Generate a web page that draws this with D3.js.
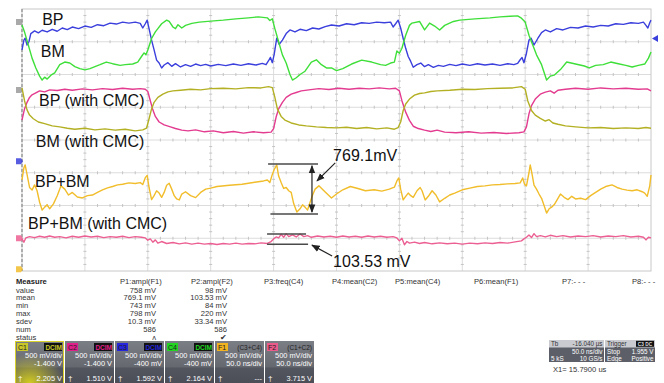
<!DOCTYPE html>
<html>
<head>
<meta charset="utf-8">
<script src="https://cdn.jsdelivr.net/npm/d3@7"></script>
<style>
  body { margin: 0; background: #fff; }
  svg { display: block; font-family: "Liberation Sans", Arial, sans-serif; }
</style>
</head>
<body>
<svg id="scope"></svg>
<script>
// time in ns (50 ns/div, 10 div), level in screen divisions (-4 .. 4)
var bpTrace = [[0,2.75],[1.5,3.05],[2.5,3.11],[4,2.90],[5.5,3.00],[7,3.25],[10,3.33],[13,3.27],[16,3.35],[20,3.30],[24,3.38],[28,3.32],[32,3.42],[36,3.37],[40,3.45],[45,3.40],[50,3.48],[55,3.44],[60,3.52],[65,3.49],[70,3.57],[75,3.54],[80,3.60],[85,3.57],[90,3.60],[94,3.56],[96,3.42],[98,3.55],[99.5,3.66],[101,3.40],[103,3.05],[105,2.75],[107,2.44],[109,2.35],[111,2.20],[113,2.29],[116,2.36],[119,2.25],[122,2.33],[126,2.23],[130,2.30],[134,2.25],[138,2.32],[142,2.27],[146,2.31],[150,2.26],[156,2.31],[162,2.27],[168,2.32],[174,2.28],[180,2.33],[186,2.29],[191,2.34],[194,2.30],[196,2.42],[197.5,2.52],[199,2.36],[200.5,2.62],[202.5,3.11],[204.5,2.92],[207,3.05],[210,3.25],[213,3.36],[217,3.30],[221,3.38],[226,3.34],[231,3.42],[236,3.39],[241,3.46],[246,3.51],[252,3.48],[258,3.55],[264,3.52],[270,3.58],[276,3.56],[282,3.60],[288,3.58],[293,3.60],[295,3.45],[297,3.55],[299,3.66],[301,3.42],[303,3.10],[305,2.80],[307,2.55],[309,2.40],[311,2.22],[314,2.30],[317,2.35],[320,2.24],[323,2.30],[327,2.22],[331,2.28],[335,2.25],[340,2.31],[345,2.27],[350,2.32],[356,2.28],[362,2.33],[368,2.29],[374,2.32],[380,2.28],[386,2.33],[391,2.30],[394,2.34],[396,2.45],[397.5,2.52],[399,2.36],[401,2.65],[403,3.05],[404.7,3.11],[407,2.90],[410,3.10],[413,3.28],[416,3.36],[420,3.30],[425,3.40],[430,3.36],[436,3.44],[442,3.42],[448,3.48],[454,3.45],[460,3.50],[466,3.48],[472,3.55],[478,3.53],[484,3.58],[490,3.56],[494,3.60],[496,3.50],[497.5,3.42],[499,3.58],[500,3.66]];

var bmTrace = [[0,3.51],[2,3.30],[5,2.90],[8,2.50],[11,2.20],[14,1.95],[16,1.83],[18,1.92],[20,1.86],[23,1.98],[26,2.05],[30,2.30],[34,2.38],[38,2.35],[42,2.24],[46,2.18],[50,2.14],[54,2.18],[58,2.24],[62,2.30],[67,2.38],[72,2.33],[78,2.28],[82,2.30],[88,2.32],[92,2.38],[95,2.55],[97,2.66],[98.5,2.60],[100,2.75],[103,3.10],[106,3.30],[108,3.40],[111,3.55],[115,3.66],[117,3.62],[120,3.45],[122,3.40],[124,3.52],[127,3.42],[130,3.50],[135,3.56],[141,3.60],[150,3.63],[160,3.66],[170,3.70],[180,3.73],[188,3.76],[195,3.73],[197,3.65],[199,3.70],[201,3.40],[204,3.00],[207,2.60],[210,2.35],[213,2.00],[215,1.83],[218,1.90],[221,2.00],[225,2.10],[230,2.38],[234,2.45],[238,2.30],[242,2.20],[246,2.20],[250,2.12],[255,2.18],[262,2.32],[270,2.44],[278,2.38],[285,2.30],[289,2.28],[293,2.35],[296,2.38],[298,2.72],[300,2.65],[302,2.80],[305,3.20],[308,3.50],[310,3.57],[316,3.62],[320,3.36],[324,3.57],[328,3.48],[332,3.36],[336,3.50],[343,3.62],[348,3.66],[360,3.70],[372,3.73],[380,3.76],[388,3.78],[394,3.79],[397,3.72],[400,3.60],[403,3.20],[406,2.90],[409,2.60],[413,2.30],[417,1.83],[420,1.95],[423,1.98],[428,2.15],[433,2.38],[440,2.32],[447,2.26],[451,2.20],[456,2.28],[462,2.30],[468,2.38],[474,2.33],[480,2.28],[485,2.23],[490,2.28],[495,2.32],[498,2.50],[500,2.69]];

var bpCmcTrace = [[0,0.61],[2,0.95],[4,1.15],[6,1.30],[8,1.38],[11,1.44],[14,1.50],[18,1.47],[22,1.53],[28,1.51],[34,1.55],[40,1.52],[48,1.56],[56,1.53],[64,1.57],[72,1.54],[80,1.58],[88,1.55],[94,1.57],[98,1.55],[100,1.48],[102,1.20],[104,0.92],[106,0.72],[109,0.55],[113,0.46],[118,0.40],[122,0.35],[127,0.30],[132,0.28],[138,0.31],[145,0.25],[152,0.28],[160,0.22],[168,0.26],[176,0.21],[184,0.25],[192,0.22],[198,0.24],[200,0.35],[202,0.70],[204,0.95],[207,1.15],[210,1.30],[214,1.40],[218,1.45],[222,1.50],[228,1.53],[236,1.57],[244,1.54],[252,1.58],[260,1.55],[268,1.58],[276,1.56],[284,1.59],[292,1.56],[297,1.58],[300,1.50],[302,1.20],[305,0.85],[308,0.60],[311,0.42],[315,0.35],[320,0.30],[325,0.26],[330,0.30],[336,0.24],[345,0.22],[355,0.25],[365,0.21],[375,0.23],[385,0.20],[395,0.22],[399,0.25],[401,0.40],[403,0.80],[405,1.05],[408,1.25],[412,1.40],[416,1.46],[420,1.50],[423,1.43],[426,1.52],[432,1.55],[440,1.58],[450,1.55],[460,1.59],[470,1.56],[480,1.58],[490,1.55],[497,1.56],[500,1.50]];

var bmCmcTrace = [[0,1.59],[2,1.20],[4,0.92],[6,0.76],[9,0.65],[13,0.55],[18,0.50],[24,0.43],[30,0.40],[36,0.36],[42,0.33],[50,0.36],[58,0.31],[66,0.34],[74,0.30],[82,0.33],[90,0.28],[96,0.31],[99,0.36],[101,0.65],[103,0.95],[105,1.15],[108,1.30],[112,1.40],[116,1.47],[120,1.50],[126,1.52],[134,1.55],[142,1.53],[150,1.57],[160,1.58],[170,1.56],[180,1.60],[190,1.59],[196,1.63],[199,1.60],[201,1.30],[203,0.95],[206,0.72],[209,0.61],[214,0.52],[220,0.46],[226,0.43],[234,0.40],[242,0.38],[250,0.37],[258,0.39],[266,0.35],[274,0.38],[282,0.34],[290,0.37],[296,0.33],[299,0.38],[301,0.55],[303,0.90],[305,1.10],[308,1.25],[312,1.37],[316,1.42],[320,1.44],[325,1.48],[330,1.50],[340,1.52],[350,1.55],[360,1.54],[370,1.57],[380,1.58],[390,1.59],[397,1.63],[400,1.55],[402,1.20],[405,0.90],[408,0.76],[412,0.66],[416,0.58],[419,0.62],[422,0.52],[426,0.48],[432,0.43],[440,0.40],[450,0.37],[460,0.38],[470,0.35],[480,0.37],[490,0.35],[496,0.38],[500,0.36]];

var sumTrace = [[0,-1.22],[1.5,-0.85],[2.5,-0.76],[4,-1.05],[6,-1.45],[8,-1.53],[10,-1.37],[12,-1.55],[14,-1.90],[16,-2.14],[18,-2.05],[20,-1.98],[22,-2.10],[25,-1.95],[28,-1.70],[31,-1.40],[34,-1.50],[37,-1.68],[40,-1.60],[44,-1.74],[48,-1.77],[52,-1.70],[56,-1.68],[60,-1.60],[64,-1.52],[68,-1.46],[72,-1.42],[76,-1.37],[80,-1.35],[85,-1.31],[90,-1.33],[94,-1.30],[96,-1.36],[98,-1.15],[99.5,-1.08],[101,-1.45],[103,-1.82],[105,-1.70],[107,-1.55],[109,-1.62],[111,-1.75],[113,-1.60],[115,-1.38],[117,-1.32],[119,-1.50],[121,-1.70],[123,-1.80],[125,-1.83],[127,-1.65],[130,-1.58],[134,-1.70],[138,-1.76],[142,-1.60],[146,-1.50],[150,-1.47],[155,-1.42],[165,-1.38],[175,-1.35],[185,-1.29],[192,-1.25],[195,-1.22],[197,-1.30],[199,-1.05],[200.5,-0.90],[202.5,-0.76],[204,-1.10],[206,-1.30],[208,-1.48],[210,-1.45],[212,-1.55],[214,-1.60],[216,-1.95],[218.5,-2.20],[221,-2.10],[223,-1.98],[225,-2.05],[227,-2.14],[229,-1.90],[231,-1.68],[233,-1.50],[236,-1.40],[240,-1.55],[246,-1.77],[250,-1.65],[255,-1.52],[261,-1.42],[267,-1.48],[273,-1.55],[280,-1.52],[286,-1.56],[292,-1.50],[296,-1.44],[298,-1.25],[299.5,-1.16],[301,-1.50],[303,-1.83],[305,-1.72],[307,-1.62],[309,-1.70],[311,-1.75],[314,-1.55],[316.5,-1.45],[318,-1.55],[320.5,-1.83],[323,-1.72],[326,-1.55],[329,-1.68],[332,-1.89],[336,-1.78],[340,-1.68],[344,-1.62],[350,-1.52],[356,-1.47],[362,-1.42],[368,-1.40],[374,-1.37],[380,-1.36],[386,-1.34],[392,-1.33],[396,-1.31],[398,-1.16],[399.5,-1.35],[401,-1.40],[403,-1.00],[404,-0.76],[405.5,-1.05],[407,-1.38],[409,-1.50],[411,-1.65],[413,-1.78],[415,-2.00],[417,-2.23],[419,-2.10],[421,-2.05],[423,-1.98],[425,-1.85],[428,-1.65],[431,-1.75],[434,-1.82],[437,-1.72],[440,-1.80],[444,-1.78],[448,-1.82],[452,-1.70],[456,-1.60],[460,-1.50],[464,-1.42],[469,-1.37],[473,-1.45],[477,-1.50],[481,-1.53],[485,-1.55],[489,-1.52],[493,-1.58],[495,-1.62],[497,-1.72],[499,-1.40],[500,-1.07]];

var sumCmcTrace = [[0,-3.02],[1.5,-3.12],[3,-2.99],[6,-2.95],[10,-2.98],[14,-2.94],[18,-2.97],[22,-2.93],[26,-2.97],[30,-2.95],[35,-2.99],[40,-2.94],[45,-2.97],[50,-2.93],[55,-2.96],[60,-2.94],[65,-2.98],[70,-2.95],[75,-2.97],[80,-2.94],[85,-2.98],[90,-2.95],[95,-2.97],[98,-2.99],[100,-3.06],[102,-3.02],[104,-3.12],[106,-3.05],[108,-3.15],[111,-3.10],[115,-3.16],[120,-3.13],[125,-3.17],[130,-3.14],[135,-3.18],[140,-3.15],[145,-3.18],[150,-3.16],[155,-3.19],[160,-3.16],[165,-3.18],[170,-3.15],[175,-3.18],[180,-3.16],[185,-3.17],[190,-3.14],[195,-3.16],[198,-3.10],[200,-3.02],[202,-2.96],[204,-2.99],[206,-2.88],[208,-2.97],[210,-2.86],[212,-2.95],[215,-2.90],[218,-2.96],[221,-2.87],[224,-2.95],[227,-2.92],[230,-2.97],[235,-2.93],[240,-2.96],[245,-2.94],[250,-2.97],[255,-2.93],[260,-2.96],[265,-2.94],[270,-2.97],[275,-2.93],[280,-2.96],[285,-2.94],[290,-2.97],[295,-2.95],[298,-2.99],[300,-3.08],[302,-3.00],[304,-3.20],[306,-3.10],[308,-3.15],[312,-3.12],[316,-3.16],[320,-3.13],[326,-3.17],[332,-3.14],[338,-3.17],[344,-3.15],[350,-3.18],[356,-3.15],[362,-3.17],[368,-3.14],[374,-3.16],[380,-3.13],[386,-3.15],[392,-3.11],[397,-3.08],[399,-3.02],[401,-2.97],[403,-2.90],[405,-2.98],[407,-2.86],[409,-2.95],[412,-2.92],[416,-2.96],[420,-2.91],[425,-2.95],[430,-2.92],[436,-2.96],[442,-2.93],[448,-2.95],[454,-2.92],[460,-2.96],[466,-2.93],[472,-2.95],[478,-2.92],[484,-2.96],[490,-2.94],[494,-2.97],[496,-3.05],[498,-2.97],[500,-2.99]];

var traceNames = ['BP', 'BM', 'BP (with CMC)', 'BM (with CMC)', 'BP+BM', 'BP+BM (with CMC)'];
var traceColors = ['#3b3fdc', '#3fdf3a', '#e33b8f', '#b3b024', '#f1bd2b', '#ec5f92'];
// label anchor [ns, div]
var labelPos = [[16, 3.51], [15, 2.53], [13.5, 1.04], [11, -0.20], [10.3, -1.44], [4.8, -2.72]];

// amplitude cursors: [t0, t1, level]
var ampLines = [[195.6, 235.3, -0.73], [197.5, 235.3, -2.26], [194.8, 225.8, -2.87], [194.8, 227.4, -3.18]];
var ampArrow = [230.5, -0.79, -2.20];
var calloutText = ['769.1mV', '103.53 mV'];
var calloutPos = [[247.3, -0.64], [247.3, -3.87]];
var calloutArrows = [[249, -0.70, 234.5, -1.25], [246.5, -3.54, 230.5, -3.21]];

var measureRows = ['value', 'mean', 'min', 'max', 'sdev', 'num', 'status'];
var paramHeaders = ['P1:ampl(F1)', 'P2:ampl(F2)', 'P3:freq(C4)', 'P4:mean(C2)', 'P5:mean(C4)', 'P6:mean(F1)', 'P7:- - -', 'P8:- - -'];
var p1Values = ['758 mV', '769.1 mV', '743 mV', '798 mV', '10.3 mV', '586', '\u028c'];
var p2Values = ['98 mV', '103.53 mV', '84 mV', '220 mV', '33.34 mV', '586', '\u2714'];

var chanNames = ['C1', 'C2', 'C3', 'C4', 'F1', 'F2'];
var chanTags = ['DCIM', 'DCIM', 'DCIM', 'DCIM', '(C3+C4)', '(C1+C2)'];
var chanColors = ['#c9c62a', '#e0208a', '#2626dc', '#22d622', '#f2b321', '#ea5a8a'];
var chanScale = ['500 mV/div', '500 mV/div', '500 mV/div', '500 mV/div', '500 mV/div', '500 mV/div'];
var chanOffset = ['-1.400 V', '-1.400 V', '-400 mV', '-400 mV', '50.0 ns/div', '50.0 ns/div'];
var chanReadout = ['2.205 V', '1.510 V', '1.592 V', '2.164 V', '---', '3.715 V'];

var tbRows = [['Tb', '-16.040 \u00b5s'], ['', '50.0 ns/div'], ['5 kS', '10 GS/s']];
var trigRows = [['Trigger', ''], ['Stop', '1.955 V'], ['Edge', 'Positive']];
var cursorText = 'X1=  15.7900 us';

var svg = d3.select('#scope').attr('width', 664).attr('height', 383);
svg.append('rect').attr('width', 664).attr('height', 383).attr('fill', '#fff');

var plot = { left: 22, top: 9, right: 651, bottom: 271 };
var x = d3.scaleLinear().domain([0, 500]).range([plot.left, plot.right]);
var y = d3.scaleLinear().domain([-4, 4]).range([plot.bottom, plot.top]);

// grid
var grid = svg.append('g');
grid.selectAll('line.v').data(d3.range(50, 500, 50)).enter()
  .append('line')
  .attr('x1', function(d) { return x(d); }).attr('x2', function(d) { return x(d); })
  .attr('y1', plot.top).attr('y2', plot.bottom)
  .attr('stroke', '#dcdcdc').attr('stroke-width', 1);
grid.selectAll('line.h').data(d3.range(-3, 4, 1)).enter()
  .append('line')
  .attr('x1', plot.left).attr('x2', plot.right)
  .attr('y1', function(d) { return y(d); }).attr('y2', function(d) { return y(d); })
  .attr('stroke', '#dcdcdc').attr('stroke-width', 1);

// minor ticks along every grid line
var minorT = d3.range(0, 500, 10).filter(function(d) { return d % 50 !== 0; });
var minorV = d3.range(-4, 4, 0.2).filter(function(d) { return Math.abs(d - Math.round(d)) > 0.01; });
d3.range(-3, 4, 1).forEach(function(lv) {
  grid.append('g').selectAll('line').data(minorT).enter().append('line')
    .attr('x1', function(d) { return x(d); }).attr('x2', function(d) { return x(d); })
    .attr('y1', y(lv) - 1.5).attr('y2', y(lv) + 1.5)
    .attr('stroke', '#c4c4c4');
});
d3.range(50, 500, 50).forEach(function(tv) {
  grid.append('g').selectAll('line').data(minorV).enter().append('line')
    .attr('x1', x(tv) - 1.5).attr('x2', x(tv) + 1.5)
    .attr('y1', function(d) { return y(d); }).attr('y2', function(d) { return y(d); })
    .attr('stroke', '#c4c4c4');
});

grid.append('rect')
  .attr('x', plot.left).attr('y', plot.top)
  .attr('width', plot.right - plot.left).attr('height', plot.bottom - plot.top)
  .attr('fill', 'none').attr('stroke', '#c8c8c8');
grid.append('line')
  .attr('x1', plot.left).attr('x2', plot.left)
  .attr('y1', plot.top).attr('y2', plot.bottom)
  .attr('stroke', '#8a8a8a').attr('stroke-width', 1.2).attr('stroke-dasharray', '3,2');

// channel ground markers on the left edge
var markerLevels = [3.6, 1.53, -0.65, -3.0, -3.95];
var markerColors = ['#9a9a9a', '#9a9a9a', '#3b3fdc', '#ec5f92', '#f1bd2b'];
svg.append('g').selectAll('path').data(markerLevels).enter()
  .append('path')
  .attr('d', function(d) { var yy = y(d); return 'M16,' + (yy - 3) + 'h5l2,3l-2,3h-5z'; })
  .attr('fill', function(d, i) { return markerColors[i]; })
  .attr('opacity', 0.85);

// trigger level marker on the right
svg.append('path')
  .attr('d', 'M' + (plot.right + 1) + ',' + y(3.1) + 'l6,-3.5v7z')
  .attr('fill', '#3b3fdc');

// traces
var line = d3.line()
  .x(function(d) { return x(d[0]); })
  .y(function(d) { return y(d[1]); });
var traces = [bpTrace, bmTrace, bpCmcTrace, bmCmcTrace, sumTrace, sumCmcTrace];
svg.append('g').selectAll('path').data(traces).enter()
  .append('path')
  .attr('d', line)
  .attr('fill', 'none')
  .attr('stroke', function(d, i) { return traceColors[i]; })
  .attr('stroke-width', 1.4)
  .attr('stroke-linejoin', 'round');

// trace labels
svg.append('g').selectAll('text').data(traceNames).enter()
  .append('text')
  .attr('x', function(d, i) { return x(labelPos[i][0]); })
  .attr('y', function(d, i) { return y(labelPos[i][1]); })
  .attr('font-size', 16)
  .attr('fill', '#111')
  .text(function(d) { return d; });

// amplitude cursors and callouts
var ann = svg.append('g').attr('stroke', '#4a4a4a').attr('stroke-width', 1.5);
ann.selectAll('line.amp').data(ampLines).enter()
  .append('line')
  .attr('x1', function(d) { return x(d[0]); }).attr('x2', function(d) { return x(d[1]); })
  .attr('y1', function(d) { return y(d[2]); }).attr('y2', function(d) { return y(d[2]); });

var defs = svg.append('defs');
defs.append('marker').attr('id', 'ah').attr('viewBox', '0 0 10 10')
  .attr('refX', 9).attr('refY', 5).attr('markerWidth', 7).attr('markerHeight', 7)
  .attr('orient', 'auto-start-reverse')
  .append('path').attr('d', 'M0,1L10,5L0,9z').attr('fill', '#222');

svg.append('line')
  .attr('x1', x(ampArrow[0])).attr('x2', x(ampArrow[0]))
  .attr('y1', y(ampArrow[1])).attr('y2', y(ampArrow[2]))
  .attr('stroke', '#222').attr('stroke-width', 1.2)
  .attr('marker-start', 'url(#ah)').attr('marker-end', 'url(#ah)');

svg.append('g').selectAll('line').data(calloutArrows).enter()
  .append('line')
  .attr('x1', function(d) { return x(d[0]); }).attr('y1', function(d) { return y(d[1]); })
  .attr('x2', function(d) { return x(d[2]); }).attr('y2', function(d) { return y(d[3]); })
  .attr('stroke', '#222').attr('stroke-width', 1.2)
  .attr('marker-end', 'url(#ah)');

svg.append('g').selectAll('text').data(calloutText).enter()
  .append('text')
  .attr('x', function(d, i) { return x(calloutPos[i][0]); })
  .attr('y', function(d, i) { return y(calloutPos[i][1]); })
  .attr('font-size', 16)
  .attr('fill', '#111')
  .text(function(d) { return d; });

// measurement table
var tbl = svg.append('g').attr('font-size', 7.6).attr('fill', '#333');
tbl.append('text').attr('x', 16).attr('y', 284).attr('font-weight', 'bold').attr('fill', '#222').text('Measure');
tbl.selectAll('text.row').data(measureRows).enter()
  .append('text').attr('class', 'row')
  .attr('x', 16).attr('y', function(d, i) { return 292.5 + i * 7.9; })
  .text(function(d) { return d; });
var headerX = [120, 191, 264, 332, 395, 474, 562, 632];
tbl.selectAll('text.hdr').data(paramHeaders).enter()
  .append('text').attr('class', 'hdr')
  .attr('x', function(d, i) { return headerX[i]; }).attr('y', 284)
  .text(function(d) { return d; });
[[p1Values, 156], [p2Values, 227]].forEach(function(col) {
  tbl.append('g').selectAll('text').data(col[0]).enter()
    .append('text')
    .attr('x', col[1]).attr('y', function(d, i) { return 292.5 + i * 7.9; })
    .attr('text-anchor', 'end')
    .text(function(d) { return d; });
});

// channel descriptor boxes
var boxGrad = defs.append('linearGradient').attr('id', 'boxg').attr('x1', 0).attr('x2', 0).attr('y1', 0).attr('y2', 1);
boxGrad.append('stop').attr('offset', '0%').attr('stop-color', '#7c7e86');
boxGrad.append('stop').attr('offset', '62%').attr('stop-color', '#666870');
boxGrad.append('stop').attr('offset', '64%').attr('stop-color', '#54565f');
boxGrad.append('stop').attr('offset', '100%').attr('stop-color', '#4c4e57');
var glow = defs.append('radialGradient').attr('id', 'glow').attr('cx', 0.3).attr('cy', 1).attr('r', 0.7);
glow.append('stop').attr('offset', '0%').attr('stop-color', '#d9d21e').attr('stop-opacity', 0.95);
glow.append('stop').attr('offset', '100%').attr('stop-color', '#d9d21e').attr('stop-opacity', 0);

var boxW = 50, boxTop = 341, boxH = 42;
var boxes = svg.append('g').selectAll('g').data(chanNames).enter()
  .append('g')
  .attr('transform', function(d, i) { return 'translate(' + (15 + i * boxW) + ',' + boxTop + ')'; });
boxes.append('rect').attr('width', boxW - 1).attr('height', boxH).attr('fill', 'url(#boxg)');
boxes.filter(function(d, i) { return i === 0; }).append('rect')
  .attr('width', boxW - 1).attr('height', boxH).attr('fill', 'url(#glow)');
boxes.filter(function(d, i) { return i === 0; }).append('rect')
  .attr('x', 0.5).attr('y', 0.5).attr('width', boxW - 2).attr('height', boxH)
  .attr('fill', 'none').attr('stroke', '#d8d22a');
boxes.append('rect').attr('x', 2).attr('y', 2).attr('width', 11).attr('height', 8)
  .attr('fill', function(d, i) { return chanColors[i]; });
boxes.append('text').attr('x', 3).attr('y', 8.5).attr('font-size', 7).attr('fill', '#222')
  .text(function(d) { return d; });
boxes.filter(function(d, i) { return i < 4; }).append('rect')
  .attr('x', 29).attr('y', 2).attr('width', 18).attr('height', 8).attr('fill', '#111');
boxes.append('text').attr('x', 47).attr('y', 8.5).attr('font-size', 6.5).attr('text-anchor', 'end')
  .attr('font-weight', function(d, i) { return i < 4 ? 'bold' : 'normal'; })
  .attr('fill', function(d, i) { return i < 4 ? chanColors[i] : '#222'; })
  .text(function(d, i) { return chanTags[i]; });
boxes.append('text').attr('x', 47).attr('y', 17).attr('font-size', 7.4).attr('text-anchor', 'end').attr('fill', '#fff')
  .text(function(d, i) { return chanScale[i]; });
boxes.append('text').attr('x', 47).attr('y', 25).attr('font-size', 7.4).attr('text-anchor', 'end').attr('fill', '#fff')
  .text(function(d, i) { return chanOffset[i]; });
boxes.append('text').attr('x', 3).attr('y', 40).attr('font-size', 8).attr('fill', '#fff').text('\u2020');
boxes.append('text').attr('x', 47).attr('y', 40).attr('font-size', 7.4).attr('text-anchor', 'end').attr('fill', '#fff')
  .text(function(d, i) { return chanReadout[i]; });

// timebase and trigger boxes
function infoBox(x0, w, rows, tag) {
  var g = svg.append('g').attr('transform', 'translate(' + x0 + ',340)');
  g.append('rect').attr('width', w).attr('height', 22).attr('fill', '#5d5f68');
  g.append('rect').attr('width', w).attr('height', 7.5).attr('fill', '#c9cbd1');
  g.selectAll('text.l').data(rows).enter().append('text')
    .attr('x', 2).attr('y', function(d, i) { return 6.3 + i * 7.3; })
    .attr('font-size', 6.3).attr('fill', function(d, i) { return i === 0 ? '#333' : '#fff'; })
    .text(function(d) { return d[0]; });
  g.selectAll('text.r').data(rows).enter().append('text')
    .attr('x', w - 1.5).attr('y', function(d, i) { return 6.3 + i * 7.3; })
    .attr('font-size', 6.3).attr('text-anchor', 'end')
    .attr('fill', function(d, i) { return i === 0 ? '#333' : '#fff'; })
    .text(function(d) { return d[1]; });
  if (tag) {
    g.append('rect').attr('x', w - 19).attr('y', 0.8).attr('width', 18).attr('height', 6).attr('fill', '#111');
    g.append('text').attr('x', w - 10).attr('y', 5.8).attr('font-size', 4.8).attr('font-weight', 'bold')
      .attr('text-anchor', 'middle').attr('fill', '#ddd').text(tag);
  }
}
infoBox(549, 55, tbRows);
infoBox(605, 50, trigRows, 'C3 DC');
svg.append('text').attr('x', 553).attr('y', 372).attr('font-size', 7.6).attr('fill', '#333').text(cursorText);
</script>
</body>
</html>
